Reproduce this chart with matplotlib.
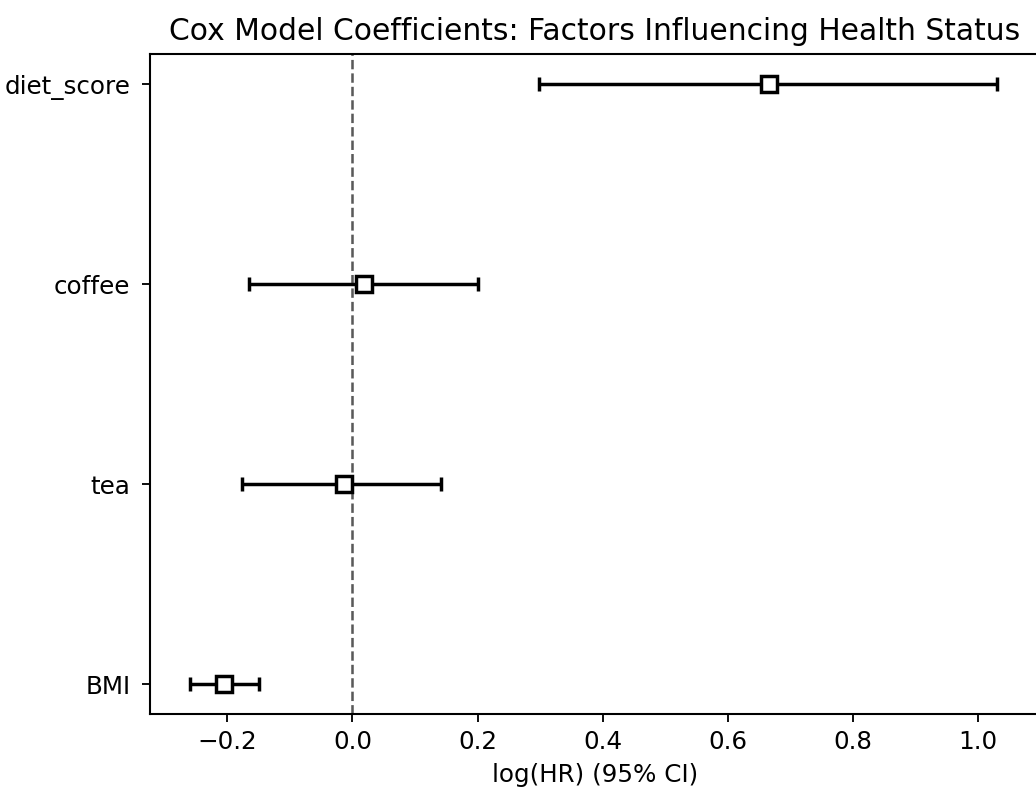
import matplotlib
matplotlib.use("Agg")
import matplotlib.pyplot as plt
import numpy as np

# covariates, bottom to top (sorted by coefficient like lifelines does)
covariates = ["BMI", "tea", "coffee", "diet_score"]
coefs = [-0.206, -0.014, 0.019, 0.666]
lower_ci = [-0.259, -0.176, -0.165, 0.299]
upper_ci = [-0.150, 0.142, 0.200, 1.030]

DPI = 166
plt.rcParams["font.size"] = 10.7
plt.rcParams["axes.linewidth"] = 0.9
fig = plt.figure(figsize=(1036 / DPI, 791 / DPI), dpi=DPI)
ax = fig.add_axes([150 / 1036, 77 / 791, 890 / 1036, 660 / 791])

ypos = np.arange(len(covariates))
c = np.array(coefs)
err = np.vstack([c - np.array(lower_ci), np.array(upper_ci) - c])

ax.errorbar(c, ypos, xerr=err, fmt="s", color="k", markerfacecolor="white",
            markersize=6.8, markeredgewidth=1.5, elinewidth=1.5, capsize=3.2,
            capthick=1.5)
ax.axvline(0, linestyle="--", color="k", alpha=0.65, lw=1.1)

ax.set_yticks(ypos)
ax.set_yticklabels(covariates)
ax.tick_params(axis="y", pad=5.0)
ax.set_ylim(-0.15, 3.15)
ax.set_xlim(-0.3235, (1040 - 352) / 626)
ax.set_xlabel("log(HR) (95% CI)")
ax.set_title("Cox Model Coefficients: Factors Influencing Health Status", fontsize=12.9)

fig.savefig("out.png", dpi=DPI)
